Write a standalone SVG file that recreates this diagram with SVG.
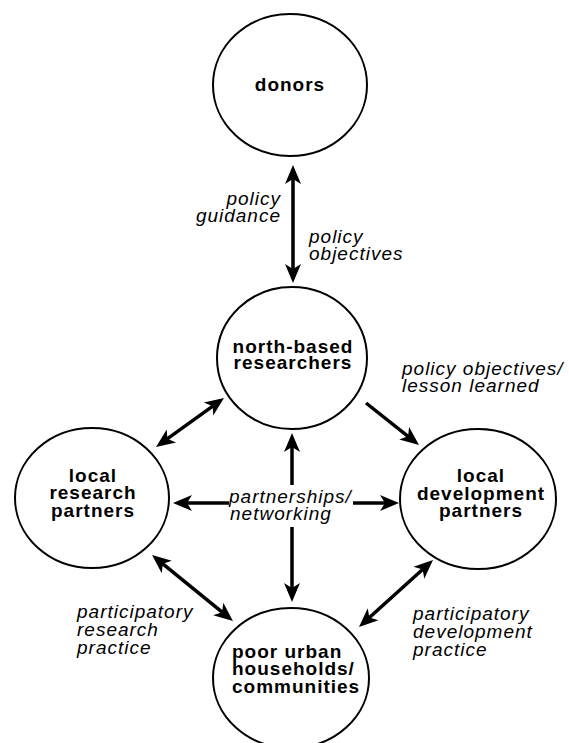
<svg xmlns="http://www.w3.org/2000/svg" width="569" height="743" viewBox="0 0 569 743">
<style>
.node ellipse{fill:#fff;stroke:#000;stroke-width:2}
.node text{font-family:"Liberation Sans",Arial,sans-serif;font-weight:bold;font-size:19px;letter-spacing:1px;fill:#000}
.lbl{font-family:"Liberation Sans",Arial,sans-serif;font-style:italic;font-size:19px;letter-spacing:1px;fill:#000}
.conn line{stroke:#000;stroke-width:3.5;fill:none}
</style>
<defs>
<marker id="ah" viewBox="-20 -9 22 18" refX="-10" refY="0" markerWidth="22" markerHeight="18" markerUnits="userSpaceOnUse" orient="auto-start-reverse">
<path d="M0,0 L-19,-8 L-14,0 L-19,8 Z" fill="#000"/>
</marker>
</defs>
<rect width="569" height="743" fill="#fff"/>
<g id="donors" class="node">
<ellipse cx="290" cy="85" rx="77" ry="71"/>
<text x="290" y="91" text-anchor="middle">donors</text>
</g>
<g id="north-based-researchers" class="node">
<ellipse cx="292" cy="358" rx="75" ry="71"/>
<text x="293" y="353" text-anchor="middle">north-based</text>
<text x="293" y="369" text-anchor="middle">researchers</text>
</g>
<g id="local-research-partners" class="node">
<ellipse cx="92" cy="498" rx="77" ry="70"/>
<text x="93" y="482" text-anchor="middle">local</text>
<text x="93" y="499" text-anchor="middle">research</text>
<text x="93" y="517" text-anchor="middle">partners</text>
</g>
<g id="local-development-partners" class="node">
<ellipse cx="478" cy="499" rx="78" ry="70"/>
<text x="481" y="482" text-anchor="middle">local</text>
<text x="481" y="500" text-anchor="middle">development</text>
<text x="481" y="517" text-anchor="middle">partners</text>
</g>
<g id="poor-urban-households" class="node">
<ellipse cx="291" cy="678" rx="78" ry="70"/>
<text x="232" y="658">poor urban</text>
<text x="232" y="675">households/</text>
<text x="232" y="693">communities</text>
</g>
<g id="connectors" class="conn">
<line x1="293" y1="175" x2="293" y2="273" marker-start="url(#ah)" marker-end="url(#ah)"/>
<line x1="215.9" y1="403.8" x2="164.1" y2="441.2" marker-start="url(#ah)" marker-end="url(#ah)"/>
<line x1="366" y1="403" x2="411.2" y2="438.8" marker-end="url(#ah)"/>
<line x1="292" y1="485" x2="292" y2="443" marker-end="url(#ah)"/>
<line x1="292" y1="527" x2="292" y2="592" marker-end="url(#ah)"/>
<line x1="229" y1="503" x2="183" y2="503" marker-end="url(#ah)"/>
<line x1="353" y1="503" x2="389" y2="503" marker-end="url(#ah)"/>
<line x1="159.8" y1="561.3" x2="225.2" y2="614.7" marker-start="url(#ah)" marker-end="url(#ah)"/>
<line x1="425.6" y1="566.7" x2="366.4" y2="620.3" marker-start="url(#ah)" marker-end="url(#ah)"/>
</g>
<g id="labels">
<text class="lbl" x="281" y="205" text-anchor="end">policy</text>
<text class="lbl" x="281" y="222" text-anchor="end">guidance</text>
<text class="lbl" x="309" y="243">policy</text>
<text class="lbl" x="309" y="260">objectives</text>
<text class="lbl" x="402" y="375">policy objectives/</text>
<text class="lbl" x="402" y="392">lesson learned</text>
<text class="lbl" x="229" y="503">partnerships/</text>
<text class="lbl" x="230" y="520">networking</text>
<text class="lbl" x="77" y="618">participatory</text>
<text class="lbl" x="77" y="636">research</text>
<text class="lbl" x="77" y="654">practice</text>
<text class="lbl" x="413" y="620">participatory</text>
<text class="lbl" x="413" y="638">development</text>
<text class="lbl" x="413" y="656">practice</text>
</g>
</svg>
